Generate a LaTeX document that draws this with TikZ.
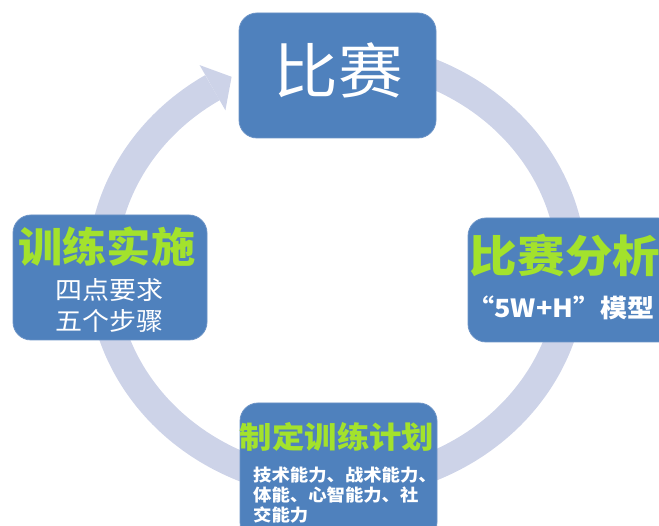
\documentclass[tikz,border=0pt]{standalone}
\usepackage{fontspec}
\newfontfamily\cjk[FakeStretch=1.08]{Noto Sans CJK SC}
\definecolor{boxblue}{HTML}{4F81BD}
\definecolor{boxedge}{HTML}{6B93C6}
\definecolor{ringcol}{HTML}{CDD3E8}
\definecolor{titlegreen}{HTML}{A3E22C}
\tikzset{
  stagebox/.style={draw=boxedge, line width=0.8pt, fill=boxblue, rounded corners=18pt,
    inner sep=0pt, outer sep=0pt},
  greentitle/.style={text=titlegreen, font=\cjk\bfseries, inner sep=0pt},
  whitetext/.style={text=white, font=\cjk, inner sep=0pt},
  ringline/.style={draw=ringcol, line width=29pt, line cap=butt},
}
\begin{document}
\begin{tikzpicture}[x=1pt,y=-1pt]
\useasboundingbox (0,0) rectangle (659,526);
\clip (0,0) rectangle (659,526);
% cycle ring
\draw[ringline] plot[domain=280:598, samples=160, smooth] ({337+235*cos(\x)},{270+215*sin(\x)});
\coordinate (headtip) at (231.6,76.8);
\coordinate (headout) at (199.6,65.1);
\coordinate (headin) at (225.4,110.3);
\fill[ringcol] (headout) -- (headtip) -- (headin) -- cycle;
% boxes
\node[stagebox, minimum width=197pt, minimum height=125pt] (match) at (337.5,75.5) {};
\node[stagebox, minimum width=194pt, minimum height=125pt] (impl) at (110,277.5) {};
\node[stagebox, minimum width=208pt, minimum height=124pt] (anal) at (572,280) {};
\node[stagebox, minimum width=197pt, minimum height=137pt] (plan) at (338.5,471.5) {};
% texts
\node[whitetext, font=\cjk\fontsize{60}{66}\selectfont] (matchtxt) at (338,70) {比赛};
\node[greentitle, font=\cjk\bfseries\fontsize{41}{46}\selectfont] (impltitle) at (107,247) {训练实施};
\node[whitetext, font=\cjk\fontsize{25}{30}\selectfont] (impl1) at (109,290) {四点要求};
\node[whitetext, font=\cjk\fontsize{25}{30}\selectfont] (impl2) at (109,321) {五个步骤};
\node[greentitle, font=\cjk\bfseries\fontsize{44}{50}\selectfont] (analtitle) at (565,255) {比赛分析};
\node[whitetext, font=\cjk\bfseries\fontsize{25}{30}\selectfont] (anal1) at (561,308) {“5W+H”模型};
\node[greentitle, font=\cjk\bfseries\fontsize{30}{36}\selectfont] (plantitle) at (337,437) {制定训练计划};
\node[whitetext, font=\cjk\bfseries\fontsize{17}{20}\selectfont, align=left, anchor=north west] (plan1) at (253,467) {技术能力、战术能力、\\体能、心智能力、社\\交能力};
\end{tikzpicture}
\end{document}
